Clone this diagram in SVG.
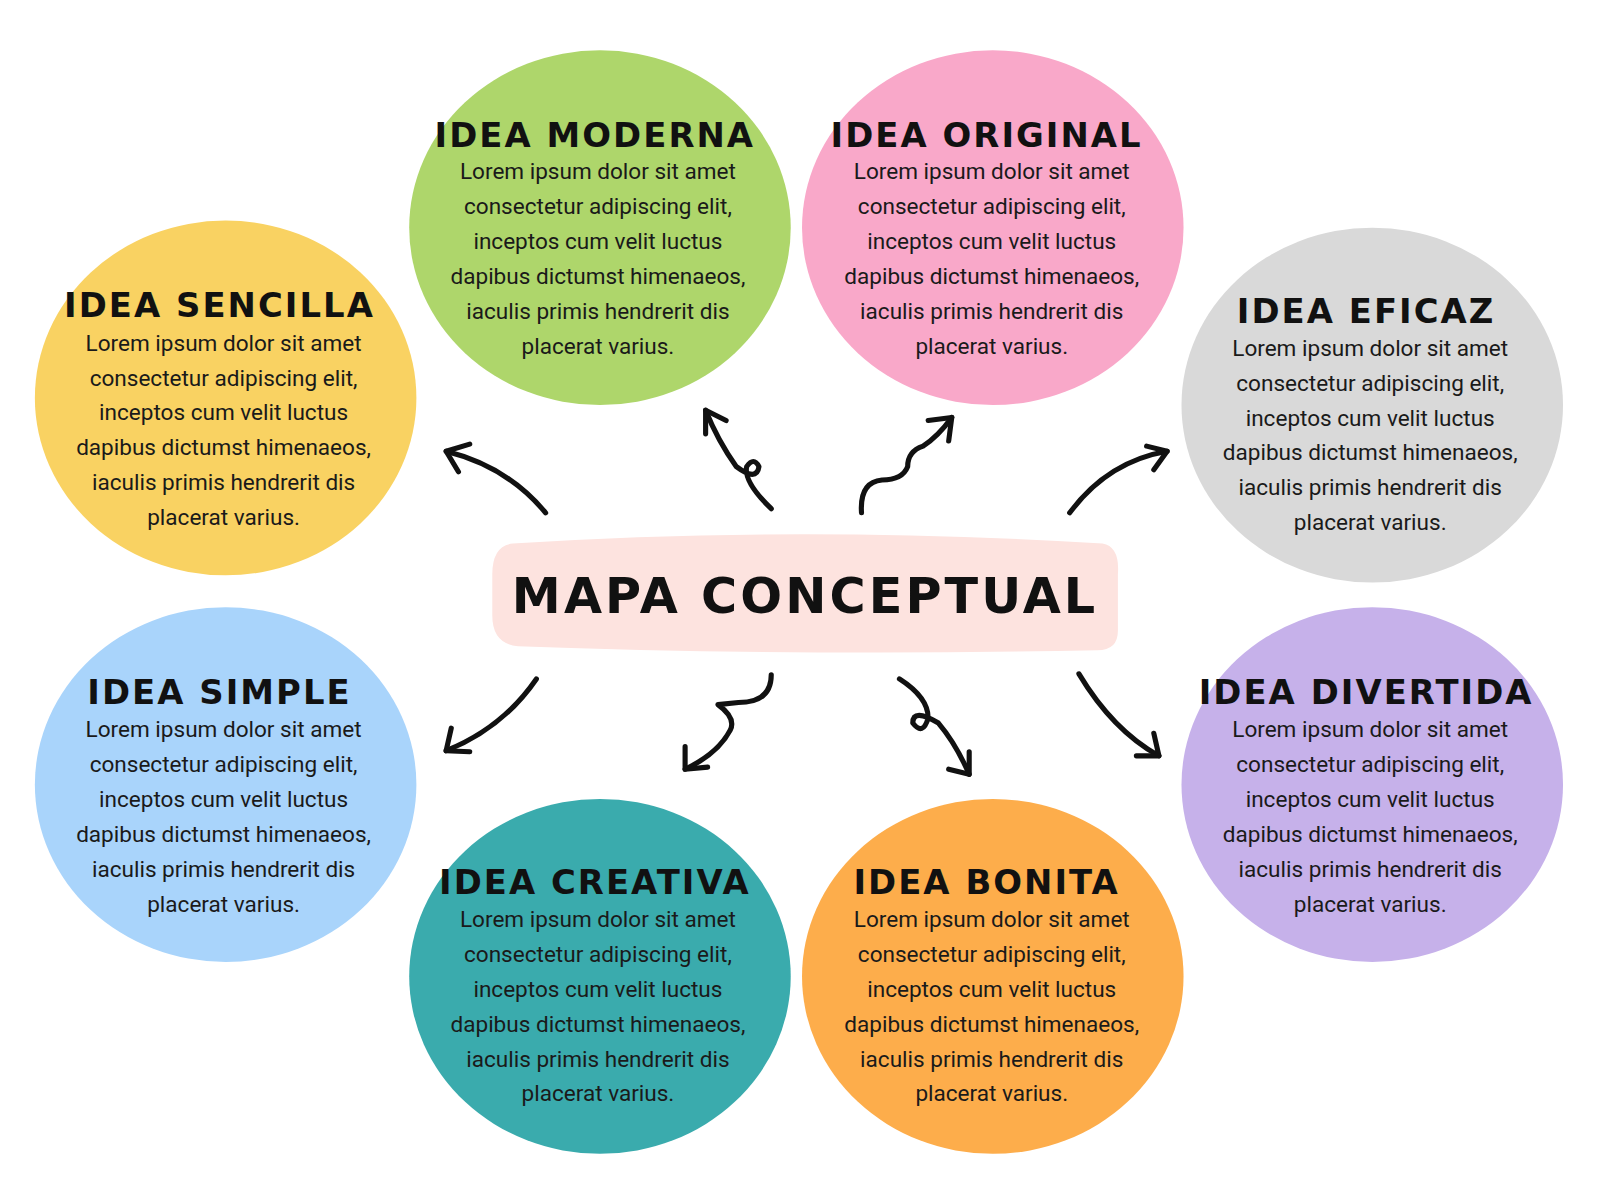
<svg xmlns="http://www.w3.org/2000/svg" width="1600" height="1200" viewBox="0 0 1600 1200">
<style>
.t{font-family:"DejaVu Sans",sans-serif;font-weight:bold;font-size:33px;text-anchor:middle;fill:#111;letter-spacing:2px}
.b{font-family:Roboto,"Liberation Sans",sans-serif;font-size:22px;text-anchor:middle;fill:#1a1a1a}
.a{fill:none;stroke:#111;stroke-width:5;stroke-linecap:round;stroke-linejoin:round}
</style>
<defs>
<g id="txt">
<text class="b" x="0" y="-38">Lorem ipsum dolor sit amet</text>
<text class="b" x="0" y="-4">consectetur adipiscing elit,</text>
<text class="b" x="0" y="30">inceptos cum velit luctus</text>
<text class="b" x="0" y="64">dapibus dictumst himenaeos,</text>
<text class="b" x="0" y="98">iaculis primis hendrerit dis</text>
<text class="b" x="0" y="132">placerat varius.</text>
</g>
</defs>
<rect width="1600" height="1200" fill="#fff"/>
<g transform="scale(1.0256)">
<g id="center">
<path d="M500,530 Q780,512 1075,530 Q1092,533 1090,560 L1090,615 Q1090,634 1070,634 Q780,640 505,630 Q480,628 480,600 L480,560 Q480,532 500,530 Z" fill="#FDE3DF"/>
<text class="t" x="785" y="598" style="font-size:48px;letter-spacing:3px">MAPA CONCEPTUAL</text>
</g>
<g id="sencilla"><ellipse cx="220" cy="388" rx="186" ry="173" fill="#F9D262"/><text class="t" x="214" y="309">IDEA SENCILLA</text><use href="#txt" x="218" y="380"/></g>
<g id="moderna"><ellipse cx="585" cy="222" rx="186" ry="173" fill="#AED66B"/><text class="t" x="580" y="143">IDEA MODERNA</text><use href="#txt" x="583" y="213"/></g>
<g id="original"><ellipse cx="968" cy="222" rx="186" ry="173" fill="#F9A8C9"/><text class="t" x="962" y="143">IDEA ORIGINAL</text><use href="#txt" x="967" y="213"/></g>
<g id="eficaz"><ellipse cx="1338" cy="395" rx="186" ry="173" fill="#D9D9D9"/><text class="t" x="1332" y="315">IDEA EFICAZ</text><use href="#txt" x="1336" y="385"/></g>
<g id="simple"><ellipse cx="220" cy="765" rx="186" ry="173" fill="#A9D4FB"/><text class="t" x="214" y="686">IDEA SIMPLE</text><use href="#txt" x="218" y="757"/></g>
<g id="creativa"><ellipse cx="585" cy="952" rx="186" ry="173" fill="#3AABAD"/><text class="t" x="580" y="872">IDEA CREATIVA</text><use href="#txt" x="583" y="942"/></g>
<g id="bonita"><ellipse cx="968" cy="952" rx="186" ry="173" fill="#FDAD4B"/><text class="t" x="962" y="872">IDEA  BONITA</text><use href="#txt" x="967" y="942"/></g>
<g id="divertida"><ellipse cx="1338" cy="765" rx="186" ry="173" fill="#C6B1EA"/><text class="t" x="1332" y="686">IDEA DIVERTIDA</text><use href="#txt" x="1336" y="757"/></g>
<g id="connectors" class="a">
<path d="M532,500 Q495,455 435,440"/><path d="M458,433 L435,440 L447,460"/>
<path d="M752,496 Q725,470 728,455 Q735,445 740,455 Q738,470 718,455 Q700,430 688,400"/><path d="M688,423 L688,400 L708,410"/>
<path d="M840,500 Q838,470 860,468 Q880,468 885,455 Q885,440 900,435 Q915,425 928,407"/><path d="M905,410 L928,407 L925,430"/>
<path d="M1043,500 Q1080,450 1138,440"/><path d="M1118,435 L1138,440 L1125,458"/>
<path d="M523,662 Q490,710 435,732"/><path d="M440,710 L435,732 L458,733"/>
<path d="M752,658 Q752,685 720,685 L700,687 Q718,700 712,712 Q700,735 668,750"/><path d="M668,728 L668,750 L690,748"/>
<path d="M877,662 Q905,680 905,700 Q900,718 890,705 Q890,690 915,705 Q932,725 945,755"/><path d="M925,750 L945,755 L945,733"/>
<path d="M1052,657 Q1085,712 1130,737"/><path d="M1108,737 L1130,737 L1125,715"/>
</g>
</g>
</svg>
